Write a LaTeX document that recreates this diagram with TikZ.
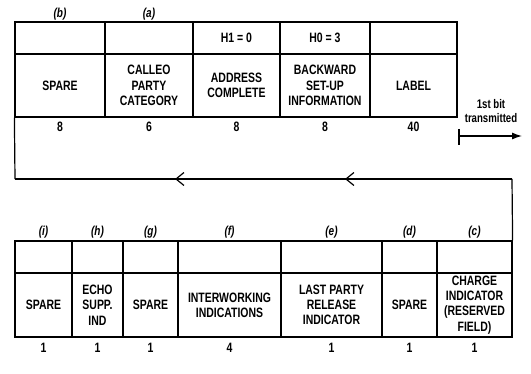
\documentclass[tikz,border=0pt]{standalone}
\usepackage{fontspec}
\setmainfont{Liberation Sans}[FakeStretch=0.77]
\usetikzlibrary{arrows.meta,decorations.markings}
\begin{document}
\begin{tikzpicture}[x=1pt,y=-1pt,
  cell/.style={draw,line width=1.2pt,inner sep=0pt,align=center,font=\fontsize{13.6}{15.3}\selectfont\bfseries},
  lbl/.style={font=\fontsize{13}{13}\selectfont\bfseries\itshape},
  num/.style={font=\fontsize{13.6}{13}\selectfont\bfseries},
  flow/.style={line width=1.2pt},
  chev/.style={postaction={decorate,decoration={markings,
     mark=at position 0.336 with {\arrow{Straight Barb[length=8pt,width=13pt,line width=1.2pt]}},
     mark=at position 0.678 with {\arrow{Straight Barb[length=8pt,width=13pt,line width=1.2pt]}}}}}]
\useasboundingbox (0,0) rectangle (531,374);
% ---- top row ----
\node[cell,minimum width=90pt,minimum height=32pt] (t1u) at (60,38) {};
\node[cell,minimum width=90pt,minimum height=63pt] (t1l) at (60,85.5) {SPARE};
\node[cell,minimum width=88pt,minimum height=32pt] (t2u) at (149,38) {};
\node[cell,minimum width=88pt,minimum height=63pt] (t2l) at (149,85.5) {CALLEO\\PARTY\\CATEGORY};
\node[cell,minimum width=87pt,minimum height=32pt] (t3u) at (236.5,38) {H1 = 0};
\node[cell,minimum width=87pt,minimum height=63pt] (t3l) at (236.5,85.5) {ADDRESS\\COMPLETE};
\node[cell,minimum width=90pt,minimum height=32pt] (t4u) at (325,38) {H0 = 3};
\node[cell,minimum width=90pt,minimum height=63pt] (t4l) at (325,85.5) {BACKWARD\\SET-UP\\INFORMATION};
\node[cell,minimum width=87pt,minimum height=32pt] (t5u) at (413.5,38) {};
\node[cell,minimum width=87pt,minimum height=63pt] (t5l) at (413.5,85.5) {LABEL};
\node[lbl] (lb) at (60,14) {(b)};
\node[lbl] (la) at (149,14) {(a)};
\node[num] (n1) at (60,127) {8};
\node[num] (n2) at (149,127) {6};
\node[num] (n3) at (236.5,127) {8};
\node[num] (n4) at (325,127) {8};
\node[num] (n5) at (413.5,127) {40};
% ---- first bit ----
\node[font=\fontsize{12.5}{14}\selectfont\bfseries,align=center] (fb) at (491,111) {1st bit\\transmitted};
\coordinate (fbs) at (459,136);
\coordinate (fbe) at (522,136);
\draw[flow] (459,129) -- (459,145);
\draw[flow,-{Latex[length=10pt,width=7pt]}] (fbs) -- (fbe);
% ---- flow line ----
\coordinate (c1) at (15,179);
\coordinate (c2) at (512,179);
\node[cell,minimum width=75pt,minimum height=32pt] (b7u) at (474.5,257) {};
\draw[flow] (t1l.south west) -- (c1);
\draw[flow,chev] (c2) -- (c1);
\draw[flow] (c2) -- (b7u.north east);
% ---- bottom row ----
\node[cell,minimum width=57pt,minimum height=32pt] (b1u) at (43.5,257) {};
\node[cell,minimum width=57pt,minimum height=64pt] (b1l) at (43.5,305) {SPARE};
\node[cell,minimum width=51pt,minimum height=32pt] (b2u) at (97.5,257) {};
\node[cell,minimum width=51pt,minimum height=64pt] (b2l) at (97.5,305) {ECHO\\SUPP.\\IND};
\node[cell,minimum width=55pt,minimum height=32pt] (b3u) at (150.5,257) {};
\node[cell,minimum width=55pt,minimum height=64pt] (b3l) at (150.5,305) {SPARE};
\node[cell,minimum width=103pt,minimum height=32pt] (b4u) at (229.5,257) {};
\node[cell,minimum width=103pt,minimum height=64pt] (b4l) at (229.5,305) {INTERWORKING\\INDICATIONS};
\node[cell,minimum width=101pt,minimum height=32pt] (b5u) at (331.5,257) {};
\node[cell,minimum width=101pt,minimum height=64pt] (b5l) at (331.5,305) {LAST PARTY\\RELEASE\\INDICATOR};
\node[cell,minimum width=55pt,minimum height=32pt] (b6u) at (409.5,257) {};
\node[cell,minimum width=55pt,minimum height=64pt] (b6l) at (409.5,305) {SPARE};
\node[cell,minimum width=75pt,minimum height=64pt] (b7l) at (474.5,305) {CHARGE\\INDICATOR\\(RESERVED\\FIELD)};
\node[lbl] (li) at (43.5,232) {(i)};
\node[lbl] (lh) at (97.5,232) {(h)};
\node[lbl] (lg) at (150.5,232) {(g)};
\node[lbl] (lf) at (229.5,232) {(f)};
\node[lbl] (le) at (331.5,232) {(e)};
\node[lbl] (ld) at (409.5,232) {(d)};
\node[lbl] (lc) at (474.5,232) {(c)};
\node[num] (m1) at (43.5,348) {1};
\node[num] (m2) at (97.5,348) {1};
\node[num] (m3) at (150.5,348) {1};
\node[num] (m4) at (229.5,348) {4};
\node[num] (m5) at (331.5,348) {1};
\node[num] (m6) at (409.5,348) {1};
\node[num] (m7) at (474.5,348) {1};
\end{tikzpicture}
\end{document}
